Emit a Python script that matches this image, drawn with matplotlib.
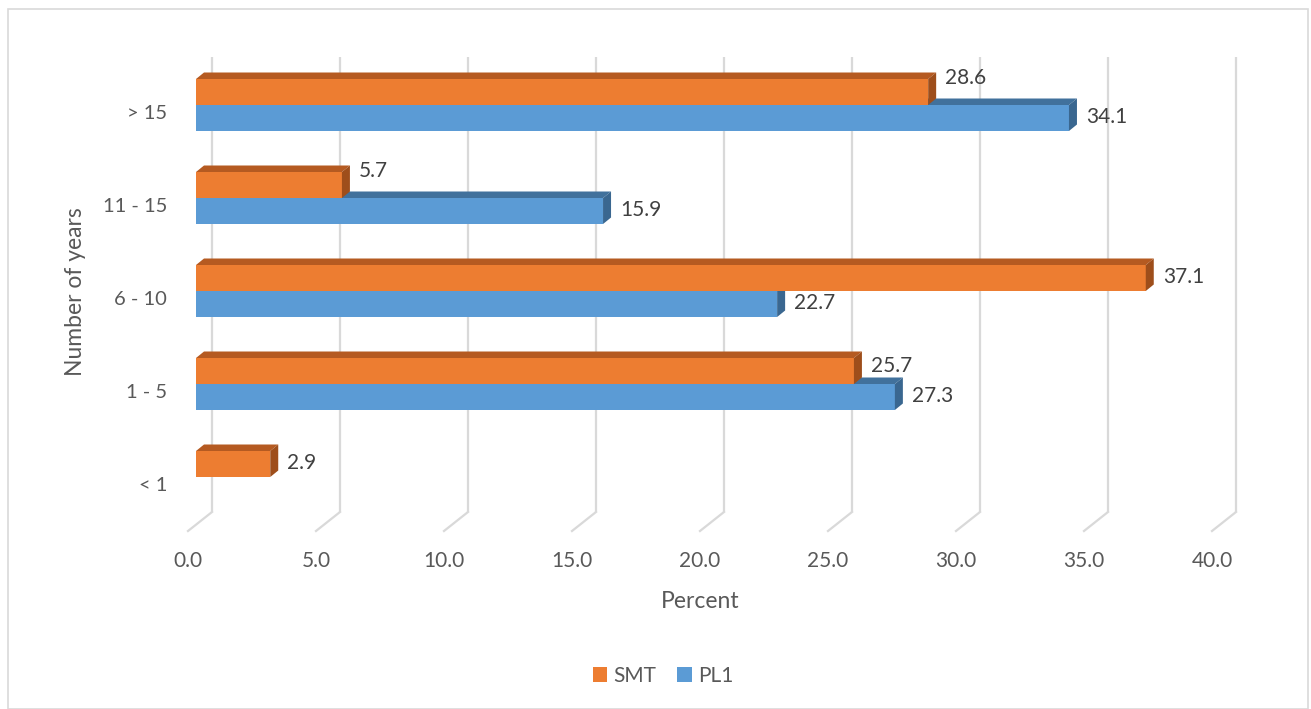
import numpy as np
import matplotlib.pyplot as plt
from matplotlib.patches import Rectangle, Polygon, Patch

# ── data ──────────────────────────────────────────────────────────
categories = ["< 1", "1 - 5", "6 - 10", "11 - 15", "> 15"]
smt = [2.9, 25.7, 37.1, 5.7, 28.6]
pl1 = [0.0, 27.3, 22.7, 15.9, 34.1]
x_ticks = [0, 5, 10, 15, 20, 25, 30, 35, 40]

# ── styling ───────────────────────────────────────────────────────
ORANGE = ("#ED7D31", "#B55A21", "#9E4E1B")   # front, top, side
BLUE = ("#5B9BD5", "#41719C", "#3A6790")
GRID = "#D9D9D9"
TICK_COL = "#595959"
LABEL_COL = "#404040"

plt.rcParams["font.family"] = ["Lato", "DejaVu Sans"]

W, H, DPI = 1311, 709, 100
fig = plt.figure(figsize=(W / DPI, H / DPI), dpi=DPI)

# plot plane (front face of the bars) in pixels
x0_px, x1_px = 196, 1220
top_px, bot_px = 30, 540
ax = fig.add_axes([x0_px / W, (H - bot_px) / H,
                   (x1_px - x0_px) / W, (bot_px - top_px) / H])

px_per_x = (x1_px - x0_px) / 40.0
px_per_y = 93.0                      # one category step
base_px = 477                        # pixel row of category 0

def ypix(p):
    return (base_px - p) / px_per_y

ax.set_xlim(0, 40)
ax.set_ylim(ypix(bot_px), ypix(top_px))
ax.axis("off")

# oblique depth offsets, converted to data units
def off(dx_px, dy_px):
    return dx_px / px_per_x, dy_px / px_per_y

bar_dx, bar_dy = off(8, 6.5)         # bar depth
wall_dx, wall_dy = off(16, 12.7)     # back wall relative to bar front
flr_dx, flr_dy = off(-8, -6.3)       # floor front relative to bar front

y_floor = ypix(524.7)
y_top = ypix(56.7)
bar_h = 26 / px_per_y

# ── gridlines: back wall + floor diagonals ────────────────────────
for v in x_ticks:
    ax.plot([v + wall_dx, v + wall_dx], [y_floor + wall_dy, y_top],
            color=GRID, lw=1.6, zorder=1, solid_capstyle="butt", clip_on=False)
    ax.plot([v + wall_dx, v + flr_dx], [y_floor + wall_dy, y_floor + flr_dy],
            color=GRID, lw=1.6, zorder=1, clip_on=False)
    ax.text(v + flr_dx, ypix(561), f"{v:.1f}", ha="center", va="center",
            fontsize=15, color=TICK_COL)

# ── 3d bars ───────────────────────────────────────────────────────
def bar3d(y0, v, cols):
    if v <= 0:
        return
    front, topc, side = cols
    ax.add_patch(Rectangle((0, y0), v, bar_h, facecolor=front,
                           edgecolor="none", zorder=3, clip_on=False))
    y1 = y0 + bar_h
    ax.add_patch(Polygon([(0, y1), (v, y1), (v + bar_dx, y1 + bar_dy),
                          (bar_dx, y1 + bar_dy)],
                         facecolor=topc, edgecolor="none", zorder=3,
                         clip_on=False))
    ax.add_patch(Polygon([(v, y0), (v, y1), (v + bar_dx, y1 + bar_dy),
                          (v + bar_dx, y0 + bar_dy)],
                         facecolor=side, edgecolor="none", zorder=3,
                         clip_on=False))

lab_dx = 17 / px_per_x
for i, cat in enumerate(categories):
    # PL1 sits under SMT, drawn first so SMT covers its top face
    bar3d(i - bar_h, pl1[i], BLUE)
    bar3d(i, smt[i], ORANGE)
    # lift the SMT label clear of a longer PL1 top face
    lift = min(13.0, 2.5 * max(0.0, pl1[i] - smt[i])) / px_per_y
    ax.text(smt[i] + lab_dx, i + bar_h / 2 + 0.01 + lift, f"{smt[i]:.1f}",
            ha="left", va="center", fontsize=15, color=LABEL_COL, zorder=4)
    if pl1[i] > 0:
        ax.text(pl1[i] + lab_dx, i - bar_h / 2 + 0.01, f"{pl1[i]:.1f}",
                ha="left", va="center", fontsize=15, color=LABEL_COL, zorder=4)
    ax.text((167 - x0_px) / px_per_x, i - 0.09, cat, ha="right", va="center",
            fontsize=14.5, color=TICK_COL)

# ── axis titles ───────────────────────────────────────────────────
fig.text(700 / W, 1 - 601 / H, "Percent", ha="center", va="center",
         fontsize=16.5, color=TICK_COL)
fig.text(75 / W, 1 - 292 / H, "Number of years", ha="center", va="center",
         rotation=90, fontsize=16.5, color=TICK_COL)

# ── legend ────────────────────────────────────────────────────────
handles = [Patch(facecolor=ORANGE[0], label="SMT"),
           Patch(facecolor=BLUE[0], label="PL1")]
fig.legend(handles=handles, loc="center", bbox_to_anchor=(663 / W, 1 - 676 / H),
           ncol=2, frameon=False, fontsize=15, handlelength=0.7,
           handleheight=0.7, handletextpad=0.3, columnspacing=1.0,
           labelcolor=TICK_COL)

# chart border
fig.add_artist(Rectangle((8 / W, 0), 1300 / W, 1 - 9 / H,
                         transform=fig.transFigure, fill=False,
                         edgecolor=GRID, lw=1.2))

fig.savefig("out.png", dpi=DPI)
